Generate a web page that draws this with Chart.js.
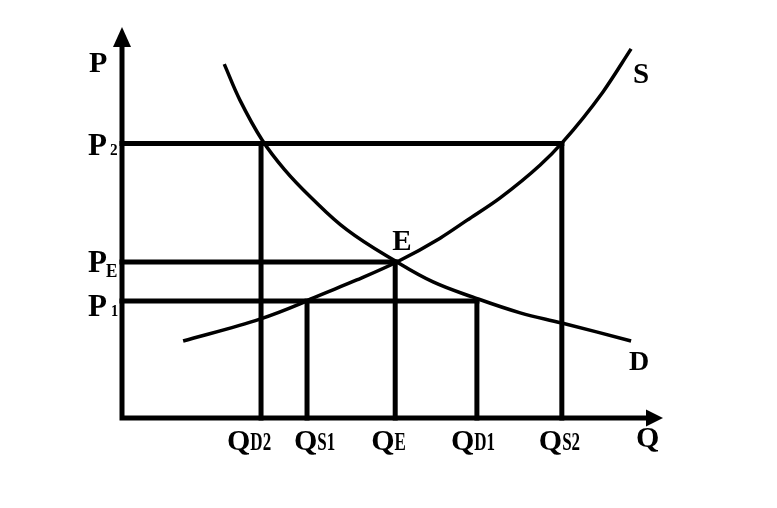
<!DOCTYPE html>
<html>
<head>
<meta charset="utf-8">
<script src="https://cdn.jsdelivr.net/npm/chart.js@4.4.0/dist/chart.umd.min.js"></script>
<style>
    html, body { margin: 0; padding: 0; background: #fff; }
    #wrap { width: 777px; height: 508px; }
</style>
</head>
<body>
<div id="wrap"><canvas id="myChart" width="777" height="508"></canvas></div>
<script>
// supply / demand curves (quantity, price)
const supplyQ = [11.3, 25.5, 32.9, 34.8, 43.4, 50.8, 58.8, 63.8, 69.9, 77.3, 81.3, 88.9, 94.1];
const supplyP = [19.7, 25.3, 29.2, 30.4, 35.3, 39.9, 46.0, 50.6, 56.3, 64.7, 70.3, 83.4, 94.4];
const demandQ = [18.9, 21.8, 25.9, 30.0, 34.8, 41.6, 50.8, 57.5, 64.9, 73.6, 81.3, 94.1];
const demandP = [90.5, 81.3, 71.1, 63.6, 56.6, 48.1, 39.9, 34.8, 30.9, 26.9, 24.3, 19.7];

// price levels: P2, PE, P1
const prices = [70.2, 39.9, 29.9];
const priceSubs = ['2', 'E', '1'];

// quantities: QD2, QS1, QE, QD1, QS2
const quantities = [25.7, 34.2, 50.5, 65.6, 81.3];
const quantitySubs = ['D2', 'S1', 'E', 'D1', 'S2'];
const quantityLevel = [0, 2, 1, 2, 0]; // which price each quantity belongs to

const BLACK = '#000';
const SERIF = '"Liberation Serif", "Times New Roman", serif';

function toPoints(xs, ys) {
    return xs.map((x, i) => ({ x: x, y: ys[i] }));
}

const guideSets = [];
prices.forEach((p, i) => {
    const ends = quantities.filter((q, j) => quantityLevel[j] === i);
    guideSets.push({
        data: [{ x: 0, y: p }, { x: Math.max(...ends), y: p }],
        borderWidth: 5
    });
});
quantities.forEach((q, j) => {
    guideSets.push({
        data: [{ x: q, y: 0 }, { x: q, y: prices[quantityLevel[j]] }],
        borderWidth: 5
    });
});

const datasets = guideSets.map(d => Object.assign({
    showLine: true, borderColor: BLACK, pointRadius: 0, clip: false,
    borderCapStyle: 'square'
}, d));

datasets.push({
    label: 'S', data: toPoints(supplyQ, supplyP), showLine: true,
    borderColor: BLACK, borderWidth: 3.5, pointRadius: 0,
    cubicInterpolationMode: 'monotone', clip: false
});
datasets.push({
    label: 'D', data: toPoints(demandQ, demandP), showLine: true,
    borderColor: BLACK, borderWidth: 3.5, pointRadius: 0,
    tension: 0.4, clip: false
});

function drawLabel(ctx, main, sub, x, base, size, subSize, subDy, gap, squeeze) {
    ctx.font = 'bold ' + size + 'px ' + SERIF;
    ctx.textAlign = 'left';
    ctx.textBaseline = 'alphabetic';
    ctx.fillText(main, x, base);
    if (!sub) return;
    const w = ctx.measureText(main).width;
    ctx.save();
    ctx.font = 'bold ' + subSize + 'px ' + SERIF;
    ctx.translate(x + w + gap, base + subDy);
    ctx.scale(squeeze, 1);
    ctx.fillText(sub, 0, 0);
    ctx.restore();
}

const diagramPlugin = {
    id: 'diagram',
    afterDatasetsDraw(chart) {
        const ctx = chart.ctx;
        const xs = chart.scales.x;
        const ys = chart.scales.y;
        const area = chart.chartArea;
        const x0 = xs.getPixelForValue(0);
        const y0 = ys.getPixelForValue(0);

        ctx.save();
        ctx.fillStyle = BLACK;
        ctx.strokeStyle = BLACK;
        ctx.lineWidth = 5;

        // axes with arrows
        ctx.beginPath();
        ctx.moveTo(x0, y0 + 2.5);
        ctx.lineTo(x0, area.top + 18);
        ctx.moveTo(x0 - 2.5, y0);
        ctx.lineTo(area.right - 15, y0);
        ctx.stroke();

        ctx.beginPath();
        ctx.moveTo(x0, area.top);
        ctx.lineTo(x0 + 9, area.top + 20);
        ctx.lineTo(x0 - 9, area.top + 20);
        ctx.closePath();
        ctx.fill();

        ctx.beginPath();
        ctx.moveTo(area.right, y0);
        ctx.lineTo(area.right - 17, y0 - 8.5);
        ctx.lineTo(area.right - 17, y0 + 8.5);
        ctx.closePath();
        ctx.fill();

        // axis names
        drawLabel(ctx, 'P', null, x0 - 33, area.top + 45, 30);
        drawLabel(ctx, 'Q', null, area.right - 27, y0 + 29, 30);

        // price labels
        const priceDy = [11, 10, 15];
        const priceSubSize = [17, 19, 16];
        const priceSubDy = [0, 5, 0];
        const priceGap = [3, -1, 4];
        prices.forEach((p, i) => {
            const py = ys.getPixelForValue(p);
            drawLabel(ctx, 'P', priceSubs[i], x0 - 34, py + priceDy[i], 31,
                priceSubSize[i], priceSubDy[i], priceGap[i], 0.9);
        });

        // quantity labels
        const qDx = [-34, -13, -24, -26, -23];
        quantities.forEach((q, j) => {
            const px = xs.getPixelForValue(q);
            drawLabel(ctx, 'Q', quantitySubs[j], px + qDx[j], y0 + 32, 30, 25, 0, 0, 0.68);
        });

        // curve names and equilibrium
        const sLast = supplyQ.length - 1;
        const dLast = demandQ.length - 1;
        drawLabel(ctx, 'S', null, xs.getPixelForValue(supplyQ[sLast]) + 2,
            ys.getPixelForValue(supplyP[sLast]) + 34, 29);
        drawLabel(ctx, 'D', null, xs.getPixelForValue(demandQ[dLast]) - 2,
            ys.getPixelForValue(demandP[dLast]) + 29, 28);
        drawLabel(ctx, 'E', null, xs.getPixelForValue(quantities[2]) - 3,
            ys.getPixelForValue(prices[1]) - 12, 29);

        ctx.restore();
    }
};

const chartCanvas = document.getElementById('myChart');
new Chart(chartCanvas.getContext('2d'), {
    type: 'scatter',
    data: { datasets: datasets },
    options: {
        responsive: false,
        animation: false,
        devicePixelRatio: 1,
        layout: { padding: { left: 122, right: 114, top: 27, bottom: 90 } },
        scales: {
            x: { type: 'linear', min: 0, max: 100, display: false },
            y: { type: 'linear', min: 0, max: 100, display: false }
        },
        plugins: {
            legend: { display: false },
            tooltip: { enabled: false }
        }
    },
    plugins: [diagramPlugin]
});
</script>
</body>
</html>
